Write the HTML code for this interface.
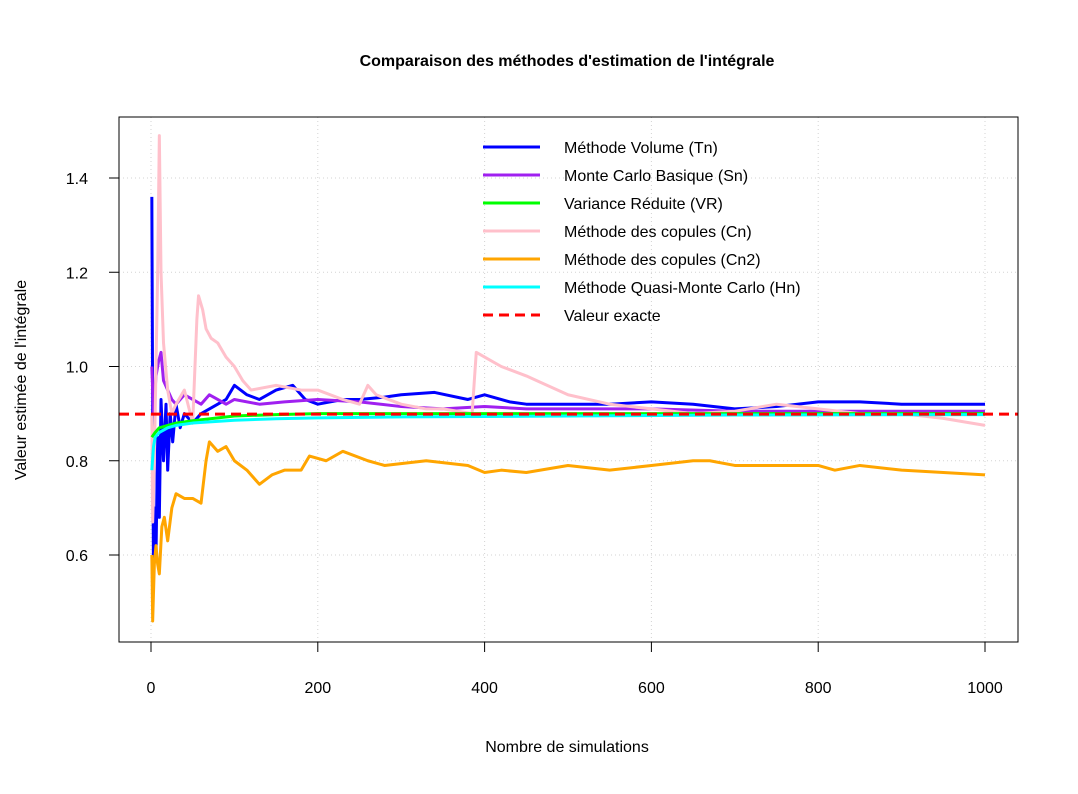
<!DOCTYPE html>
<html><head><meta charset="utf-8"><style>
body{margin:0;background:#fff}
svg text{font-family:"Liberation Sans",Arial,sans-serif;fill:#000}
</style></head><body>
<svg id="chart" width="1078" height="789">
<text x="567" y="66" text-anchor="middle" font-size="16" font-weight="bold">Comparaison des méthodes d'estimation de l'intégrale</text>
<g id="grid"></g>
<g id="series"></g>
<rect x="119" y="117" width="899" height="525" fill="none" stroke="#000" stroke-width="1"/>
<g id="axes"></g>
<text x="567" y="752" text-anchor="middle" font-size="16">Nombre de simulations</text>
<text transform="translate(26,380) rotate(-90)" text-anchor="middle" font-size="16">Valeur estimée de l'intégrale</text>
<g id="legend"></g>
</svg>
<script>
const xTicks=[0,200,400,600,800,1000];
const yTicks=[0.6,0.8,1.0,1.2,1.4];
const yTickLabels=["0.6","0.8","1.0","1.2","1.4"];
const exactValue=0.899;
const tnX=[1,2,3,4,6,8,10,12,15,18,20,23,26,30,35,40,50,60,70,80,90,100,115,130,150,170,185,200,230,250,280,300,340,380,400,430,450,500,550,600,650,700,750,800,850,900,950,1000];
const tnY=[1.36,0.9,0.55,0.7,0.6,0.85,0.68,0.93,0.8,0.92,0.78,0.9,0.84,0.92,0.87,0.9,0.88,0.9,0.91,0.92,0.93,0.96,0.94,0.93,0.95,0.96,0.93,0.92,0.93,0.93,0.935,0.94,0.945,0.93,0.94,0.925,0.92,0.92,0.92,0.925,0.92,0.91,0.915,0.925,0.925,0.92,0.92,0.92];
const snX=[1,3,6,9,12,15,20,25,30,40,50,60,70,80,90,100,130,160,200,250,300,350,400,450,500,600,700,800,900,1000];
const snY=[1.0,0.9,0.98,1.01,1.03,0.97,0.95,0.93,0.92,0.94,0.93,0.92,0.94,0.93,0.92,0.93,0.92,0.925,0.93,0.925,0.915,0.91,0.915,0.91,0.91,0.91,0.905,0.905,0.905,0.905];
const vrX=[1,5,10,20,30,50,75,100,150,200,300,500,700,1000];
const vrY=[0.85,0.86,0.87,0.875,0.88,0.885,0.89,0.895,0.898,0.9,0.9,0.9,0.9,0.9];
const cnX=[1,2,4,6,8,10,12,15,20,25,30,40,50,55,57,62,66,72,80,90,100,110,120,150,180,200,230,250,260,270,300,330,350,385,390,400,420,450,500,550,600,650,700,750,800,850,900,950,1000];
const cnY=[0.9,0.67,0.8,1.0,1.2,1.49,1.2,1.05,0.95,0.9,0.92,0.95,0.88,1.1,1.15,1.12,1.08,1.06,1.05,1.02,1.0,0.97,0.95,0.96,0.95,0.95,0.93,0.92,0.96,0.94,0.92,0.91,0.91,0.9,1.03,1.02,1.0,0.98,0.94,0.92,0.91,0.9,0.905,0.92,0.91,0.9,0.9,0.89,0.875];
const cn2X=[1,2,4,6,8,10,13,16,20,25,30,40,50,60,66,70,80,90,100,115,130,145,160,180,190,210,230,260,280,330,380,400,420,450,500,550,600,650,670,700,800,820,850,900,950,1000];
const cn2Y=[0.6,0.46,0.58,0.62,0.58,0.56,0.66,0.68,0.63,0.7,0.73,0.72,0.72,0.71,0.8,0.84,0.82,0.83,0.8,0.78,0.75,0.77,0.78,0.78,0.81,0.8,0.82,0.8,0.79,0.8,0.79,0.775,0.78,0.775,0.79,0.78,0.79,0.8,0.8,0.79,0.79,0.78,0.79,0.78,0.775,0.77];
const hnX=[1,3,5,10,20,30,50,75,100,150,200,300,500,700,1000];
const hnY=[0.78,0.83,0.85,0.86,0.87,0.875,0.88,0.883,0.886,0.889,0.891,0.893,0.895,0.897,0.898];
const legendLabels=["Méthode Volume (Tn)","Monte Carlo Basique (Sn)","Variance Réduite (VR)","Méthode des copules (Cn)","Méthode des copules (Cn2)","Méthode Quasi-Monte Carlo (Hn)","Valeur exacte"];

const NS="http://www.w3.org/2000/svg";
const sx=v=>151+v*0.834;
const sy=v=>555-(v-0.6)*471.25;
function mk(tag,attrs,parent){const e=document.createElementNS(NS,tag);for(const k in attrs)e.setAttribute(k,attrs[k]);parent.appendChild(e);return e;}
const grid=document.getElementById('grid'),axes=document.getElementById('axes'),ser=document.getElementById('series'),leg=document.getElementById('legend');
xTicks.forEach(t=>{
 const g=mk('line',{x1:sx(t),x2:sx(t),y1:117,y2:642,stroke:'#d3d3d3','stroke-dasharray':'1,3'},grid);
 
 const tk=mk('line',{x1:sx(t),x2:sx(t),y1:642,y2:652,stroke:'#000'},axes);
 
 const tx=mk('text',{x:sx(t),y:693,'text-anchor':'middle','font-size':16},axes);tx.textContent=t;
 
});
yTicks.forEach((t,i)=>{
 const g=mk('line',{x1:119,x2:1018,y1:sy(t),y2:sy(t),stroke:'#d3d3d3','stroke-dasharray':'1,3'},grid);
 
 const tk=mk('line',{x1:109,x2:119,y1:sy(t),y2:sy(t),stroke:'#000'},axes);
 
 const tx=mk('text',{x:88,y:sy(t)+6,'text-anchor':'end','font-size':16},axes);tx.textContent=yTickLabels[i];
 
});
const series=[[tnX,tnY,'#0000ff','series-tn'],[snX,snY,'#a020f0','series-sn'],[cnX,cnY,'#ffc0cb','series-cn'],[cn2X,cn2Y,'#ffa500','series-cn2'],[vrX,vrY,'#00ff00','series-vr'],[hnX,hnY,'#00ffff','series-hn']];
series.forEach(s=>{
 const p=mk('polyline',{points:s[0].map((x,i)=>sx(x)+','+sy(s[1][i])).join(' '),fill:'none',stroke:s[2],'stroke-width':3,'stroke-linejoin':'round'},ser);
 
});
const ex=mk('line',{x1:119,x2:1018,y1:sy(exactValue),y2:sy(exactValue),stroke:'#ff0000','stroke-width':3,'stroke-dasharray':'10,6'},ser);

const legColors=['#0000ff','#a020f0','#00ff00','#ffc0cb','#ffa500','#00ffff','#ff0000'];
legendLabels.forEach((l,i)=>{
 const y=147+i*28;
 const ln=mk('line',{x1:483,x2:540,y1:y,y2:y,stroke:legColors[i],'stroke-width':3},leg);
 if(i==6)ln.setAttribute('stroke-dasharray','10,6');
 
 const t=mk('text',{x:564,y:y+6,'font-size':16},leg);t.textContent=l;
 
});
</script>
</body></html>
